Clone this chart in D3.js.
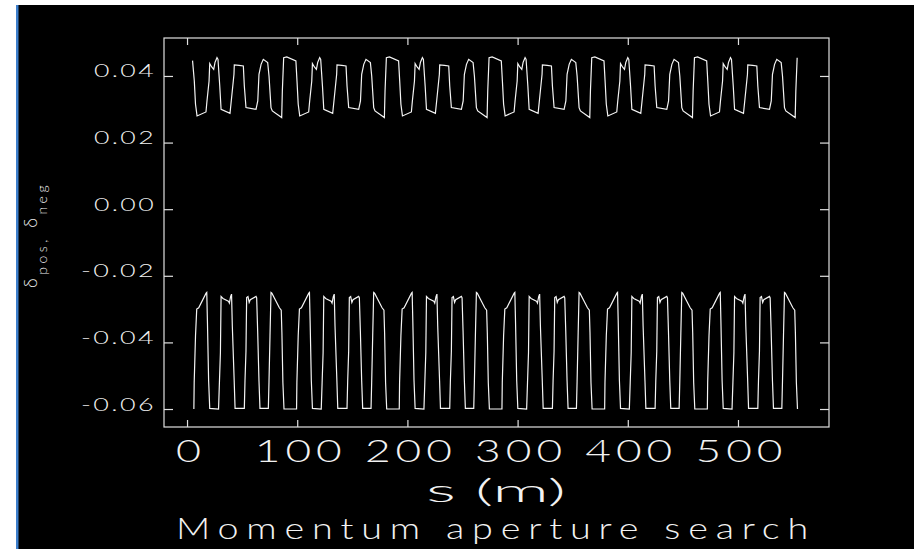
<!doctype html>
<html>
<head>
<meta charset="utf-8">
<script src="https://cdnjs.cloudflare.com/ajax/libs/d3/7.8.5/d3.min.js"></script>
<style>
  body { margin: 0; background: #fff; }
  svg text { font-family: Lato, "DejaVu Sans", sans-serif; font-weight: 300; fill: #f2f2f2; }
</style>
</head>
<body>
<svg id="chart" width="914" height="549"></svg>
<script>
// tick values and labels
const xTicks = [0, 100, 200, 300, 400, 500];
const yTicks = [0.04, 0.02, 0.00, -0.02, -0.04, -0.06];
const yTickLabels = ["0.04", "0.02", "0.00", "-0.02", "-0.04", "-0.06"];

// positive momentum aperture, s in m
const posS = [
  5.0, 6.6, 7.7, 9.1, 17.2, 18.1, 20.0, 20.6, 22.4, 24.2, 25.4, 27.2, 28.1, 29.7, 30.9, 39.0, 40.6, 42.6, 42.9, 47.2, 51.1, 52.0, 53.5, 62.6, 64.2, 65.3, 67.2, 69.2, 73.2, 74.4, 76.2, 77.4, 85.9, 86.5, 87.7, 90.5, 98.8, 99.8, 100.9,
  102.3, 110.4, 111.3, 113.2, 113.8, 115.6, 117.4, 118.6, 120.4, 121.3, 122.9, 124.1, 132.2, 133.8, 135.8, 136.1, 140.4, 144.3, 145.2, 146.7, 155.8, 157.4, 158.5, 160.4, 162.4, 166.4, 167.6, 169.4, 170.6, 179.1, 179.7, 180.9, 183.7, 192.0, 193.0, 194.1,
  195.5, 203.6, 204.5, 206.4, 207.0, 208.8, 210.6, 211.8, 213.6, 214.5, 216.1, 217.3, 225.4, 227.0, 229.0, 229.3, 233.6, 237.5, 238.4, 239.9, 249.0, 250.6, 251.7, 253.6, 255.6, 259.6, 260.8, 262.6, 263.8, 272.3, 272.9, 274.1, 276.9, 285.2, 286.2, 287.3,
  288.7, 296.8, 297.7, 299.6, 300.2, 302.0, 303.8, 305.0, 306.8, 307.7, 309.3, 310.5, 318.6, 320.2, 322.2, 322.5, 326.8, 330.7, 331.6, 333.1, 342.2, 343.8, 344.9, 346.8, 348.8, 352.8, 354.0, 355.8, 357.0, 365.5, 366.1, 367.3, 370.1, 378.4, 379.4, 380.5,
  381.9, 390.0, 390.9, 392.8, 393.4, 395.2, 397.0, 398.2, 400.0, 400.9, 402.5, 403.7, 411.8, 413.4, 415.4, 415.7, 420.0, 423.9, 424.8, 426.3, 435.4, 437.0, 438.1, 440.0, 442.0, 446.0, 447.2, 449.0, 450.2, 458.7, 459.3, 460.5, 463.3, 471.6, 472.6, 473.7,
  475.1, 483.2, 484.1, 486.0, 486.6, 488.4, 490.2, 491.4, 493.2, 494.1, 495.7, 496.9, 505.0, 506.6, 508.6, 508.9, 513.2, 517.1, 518.0, 519.5, 528.6, 530.2, 531.3, 533.2, 535.2, 539.2, 540.4, 542.2, 543.4, 551.9, 552.5, 553.7
];
const posDelta = [
  0.0446, 0.0385, 0.0315, 0.0280, 0.0292, 0.0325, 0.0385, 0.0437, 0.0427, 0.0420, 0.0441, 0.0455, 0.0450, 0.0370, 0.0300, 0.0288, 0.0340, 0.0405, 0.0433, 0.0432, 0.0430, 0.0370, 0.0305, 0.0300, 0.0325, 0.0405, 0.0435, 0.0450, 0.0440, 0.0400, 0.0305, 0.0295, 0.0275, 0.0355, 0.0455, 0.0457, 0.0445, 0.0385, 0.0315,
  0.0280, 0.0292, 0.0325, 0.0385, 0.0437, 0.0427, 0.0420, 0.0441, 0.0455, 0.0450, 0.0370, 0.0300, 0.0288, 0.0340, 0.0405, 0.0433, 0.0432, 0.0430, 0.0370, 0.0305, 0.0300, 0.0325, 0.0405, 0.0435, 0.0450, 0.0440, 0.0400, 0.0305, 0.0295, 0.0275, 0.0355, 0.0455, 0.0457, 0.0445, 0.0385, 0.0315,
  0.0280, 0.0292, 0.0325, 0.0385, 0.0437, 0.0427, 0.0420, 0.0441, 0.0455, 0.0450, 0.0370, 0.0300, 0.0288, 0.0340, 0.0405, 0.0433, 0.0432, 0.0430, 0.0370, 0.0305, 0.0300, 0.0325, 0.0405, 0.0435, 0.0450, 0.0440, 0.0400, 0.0305, 0.0295, 0.0275, 0.0355, 0.0455, 0.0457, 0.0445, 0.0385, 0.0315,
  0.0280, 0.0292, 0.0325, 0.0385, 0.0437, 0.0427, 0.0420, 0.0441, 0.0455, 0.0450, 0.0370, 0.0300, 0.0288, 0.0340, 0.0405, 0.0433, 0.0432, 0.0430, 0.0370, 0.0305, 0.0300, 0.0325, 0.0405, 0.0435, 0.0450, 0.0440, 0.0400, 0.0305, 0.0295, 0.0275, 0.0355, 0.0455, 0.0457, 0.0445, 0.0385, 0.0315,
  0.0280, 0.0292, 0.0325, 0.0385, 0.0437, 0.0427, 0.0420, 0.0441, 0.0455, 0.0450, 0.0370, 0.0300, 0.0288, 0.0340, 0.0405, 0.0433, 0.0432, 0.0430, 0.0370, 0.0305, 0.0300, 0.0325, 0.0405, 0.0435, 0.0450, 0.0440, 0.0400, 0.0305, 0.0295, 0.0275, 0.0355, 0.0455, 0.0457, 0.0445, 0.0385, 0.0315,
  0.0280, 0.0292, 0.0325, 0.0385, 0.0437, 0.0427, 0.0420, 0.0441, 0.0455, 0.0450, 0.0370, 0.0300, 0.0288, 0.0340, 0.0405, 0.0433, 0.0432, 0.0430, 0.0370, 0.0305, 0.0300, 0.0325, 0.0405, 0.0435, 0.0450, 0.0440, 0.0400, 0.0305, 0.0295, 0.0275, 0.0355, 0.0455
];

// negative momentum aperture
const negS = [
  6.2, 6.5, 7.7, 8.8, 10.6, 17.3, 17.9, 18.5, 19.6, 20.6, 28.6, 29.4, 30.3, 30.9, 32.6, 37.5, 38.4, 39.6, 40.4, 41.1, 42.8, 43.6, 52.0, 52.6, 53.5, 54.1, 55.3, 56.4, 57.4, 62.6, 63.2, 64.1, 65.3, 66.2, 73.8, 74.4, 75.3, 76.2, 77.0, 83.8, 85.5, 86.1, 87.0, 88.0,
  99.4, 99.7, 100.9, 102.0, 103.8, 110.5, 111.1, 111.7, 112.8, 113.8, 121.8, 122.6, 123.5, 124.1, 125.8, 130.7, 131.6, 132.8, 133.6, 134.3, 136.0, 136.8, 145.2, 145.8, 146.7, 147.3, 148.5, 149.6, 150.6, 155.8, 156.4, 157.3, 158.5, 159.4, 167.0, 167.6, 168.5, 169.4, 170.2, 177.0, 178.7, 179.3, 180.2, 181.2,
  192.6, 192.9, 194.1, 195.2, 197.0, 203.7, 204.3, 204.9, 206.0, 207.0, 215.0, 215.8, 216.7, 217.3, 219.0, 223.9, 224.8, 226.0, 226.8, 227.5, 229.2, 230.0, 238.4, 239.0, 239.9, 240.5, 241.7, 242.8, 243.8, 249.0, 249.6, 250.5, 251.7, 252.6, 260.2, 260.8, 261.7, 262.6, 263.4, 270.2, 271.9, 272.5, 273.4, 274.4,
  285.8, 286.1, 287.3, 288.4, 290.2, 296.9, 297.5, 298.1, 299.2, 300.2, 308.2, 309.0, 309.9, 310.5, 312.2, 317.1, 318.0, 319.2, 320.0, 320.7, 322.4, 323.2, 331.6, 332.2, 333.1, 333.7, 334.9, 336.0, 337.0, 342.2, 342.8, 343.7, 344.9, 345.8, 353.4, 354.0, 354.9, 355.8, 356.6, 363.4, 365.1, 365.7, 366.6, 367.6,
  379.0, 379.3, 380.5, 381.6, 383.4, 390.1, 390.7, 391.3, 392.4, 393.4, 401.4, 402.2, 403.1, 403.7, 405.4, 410.3, 411.2, 412.4, 413.2, 413.9, 415.6, 416.4, 424.8, 425.4, 426.3, 426.9, 428.1, 429.2, 430.2, 435.4, 436.0, 436.9, 438.1, 439.0, 446.6, 447.2, 448.1, 449.0, 449.8, 456.6, 458.3, 458.9, 459.8, 460.8,
  472.2, 472.5, 473.7, 474.8, 476.6, 483.3, 483.9, 484.5, 485.6, 486.6, 494.6, 495.4, 496.3, 496.9, 498.6, 503.5, 504.4, 505.6, 506.4, 507.1, 508.8, 509.6, 518.0, 518.6, 519.5, 520.1, 521.3, 522.4, 523.4, 528.6, 529.2, 530.1, 531.3, 532.2, 539.8, 540.4, 541.3, 542.2, 543.0, 549.8, 551.5, 552.1, 553.0, 554.0
];
const negDelta = [
  -0.0600, -0.0520, -0.0380, -0.0300, -0.0296, -0.0252, -0.0250, -0.0335, -0.0515, -0.0598, -0.0600, -0.0520, -0.0430, -0.0262, -0.0268, -0.0276, -0.0282, -0.0262, -0.0255, -0.0351, -0.0516, -0.0598, -0.0598, -0.0516, -0.0426, -0.0265, -0.0262, -0.0280, -0.0272, -0.0262, -0.0266, -0.0366, -0.0516, -0.0598, -0.0598, -0.0516, -0.0380, -0.0250, -0.0252, -0.0296, -0.0303, -0.0371, -0.0521, -0.0600,
  -0.0600, -0.0520, -0.0380, -0.0300, -0.0296, -0.0252, -0.0250, -0.0335, -0.0515, -0.0598, -0.0600, -0.0520, -0.0430, -0.0262, -0.0268, -0.0276, -0.0282, -0.0262, -0.0255, -0.0351, -0.0516, -0.0598, -0.0598, -0.0516, -0.0426, -0.0265, -0.0262, -0.0280, -0.0272, -0.0262, -0.0266, -0.0366, -0.0516, -0.0598, -0.0598, -0.0516, -0.0380, -0.0250, -0.0252, -0.0296, -0.0303, -0.0371, -0.0521, -0.0600,
  -0.0600, -0.0520, -0.0380, -0.0300, -0.0296, -0.0252, -0.0250, -0.0335, -0.0515, -0.0598, -0.0600, -0.0520, -0.0430, -0.0262, -0.0268, -0.0276, -0.0282, -0.0262, -0.0255, -0.0351, -0.0516, -0.0598, -0.0598, -0.0516, -0.0426, -0.0265, -0.0262, -0.0280, -0.0272, -0.0262, -0.0266, -0.0366, -0.0516, -0.0598, -0.0598, -0.0516, -0.0380, -0.0250, -0.0252, -0.0296, -0.0303, -0.0371, -0.0521, -0.0600,
  -0.0600, -0.0520, -0.0380, -0.0300, -0.0296, -0.0252, -0.0250, -0.0335, -0.0515, -0.0598, -0.0600, -0.0520, -0.0430, -0.0262, -0.0268, -0.0276, -0.0282, -0.0262, -0.0255, -0.0351, -0.0516, -0.0598, -0.0598, -0.0516, -0.0426, -0.0265, -0.0262, -0.0280, -0.0272, -0.0262, -0.0266, -0.0366, -0.0516, -0.0598, -0.0598, -0.0516, -0.0380, -0.0250, -0.0252, -0.0296, -0.0303, -0.0371, -0.0521, -0.0600,
  -0.0600, -0.0520, -0.0380, -0.0300, -0.0296, -0.0252, -0.0250, -0.0335, -0.0515, -0.0598, -0.0600, -0.0520, -0.0430, -0.0262, -0.0268, -0.0276, -0.0282, -0.0262, -0.0255, -0.0351, -0.0516, -0.0598, -0.0598, -0.0516, -0.0426, -0.0265, -0.0262, -0.0280, -0.0272, -0.0262, -0.0266, -0.0366, -0.0516, -0.0598, -0.0598, -0.0516, -0.0380, -0.0250, -0.0252, -0.0296, -0.0303, -0.0371, -0.0521, -0.0600,
  -0.0600, -0.0520, -0.0380, -0.0300, -0.0296, -0.0252, -0.0250, -0.0335, -0.0515, -0.0598, -0.0600, -0.0520, -0.0430, -0.0262, -0.0268, -0.0276, -0.0282, -0.0262, -0.0255, -0.0351, -0.0516, -0.0598, -0.0598, -0.0516, -0.0426, -0.0265, -0.0262, -0.0280, -0.0272, -0.0262, -0.0266, -0.0366, -0.0516, -0.0598, -0.0598, -0.0516, -0.0380, -0.0250, -0.0252, -0.0296, -0.0303, -0.0371, -0.0521, -0.0600
];

const svg = d3.select("#chart");
const plotLeft = 164, plotRight = 829, plotTop = 38, plotBottom = 427;

// black plotting window with the blue edge on the left
svg.append("rect").attr("x", 18).attr("y", 5).attr("width", 896).attr("height", 544).attr("fill", "#000");
svg.append("rect").attr("x", 16).attr("y", 5).attr("width", 2.5).attr("height", 544).attr("fill", "#3d7fcc");

const x = d3.scaleLinear().domain([-20.9, 582.6]).range([plotLeft, plotRight]);
const y = d3.scaleLinear().domain([-0.0654, 0.0514]).range([plotBottom, plotTop]);

function styleAxis(g) {
  g.select(".domain").remove();
  g.selectAll(".tick line").attr("stroke", "#e0e0e0").attr("stroke-width", 1.2);
}

// ticks point inward on all four sides
const gBottom = svg.append("g").attr("transform", `translate(0,${plotBottom})`)
  .call(d3.axisBottom(x).tickValues(xTicks).tickSize(-7).tickFormat(d => String(d)));
styleAxis(gBottom);
gBottom.selectAll("text")
  .attr("x", d => d === 0 ? 1 : 3).attr("y", 35).attr("dy", 0)
  .style("font-size", "31px").style("letter-spacing", d => d === 0 ? null : "3.5px")
  .attr("textLength", d => d === 0 ? 25 : 92)
  .attr("lengthAdjust", "spacingAndGlyphs");

svg.append("g").attr("transform", `translate(0,${plotTop})`)
  .call(d3.axisTop(x).tickValues(xTicks).tickSize(-7).tickFormat(""))
  .call(styleAxis);

const gLeft = svg.append("g").attr("transform", `translate(${plotLeft},0)`)
  .call(d3.axisLeft(y).tickValues(yTicks).tickSize(-9).tickFormat((d, i) => yTickLabels[i]));
styleAxis(gLeft);
gLeft.selectAll("text")
  .attr("x", -8).attr("dy", 0).attr("y", 1)
  .style("font-size", "17px").style("letter-spacing", "1.5px")
  .attr("textLength", (d, i) => yTickLabels[i].length > 4 ? 75 : 62)
  .attr("lengthAdjust", "spacingAndGlyphs");

svg.append("g").attr("transform", `translate(${plotRight},0)`)
  .call(d3.axisRight(y).tickValues(yTicks).tickSize(-9).tickFormat(""))
  .call(styleAxis);

// frame
svg.append("rect")
  .attr("x", plotLeft).attr("y", plotTop).attr("width", plotRight - plotLeft).attr("height", plotBottom - plotTop)
  .attr("fill", "none").attr("stroke", "#e0e0e0").attr("stroke-width", 1.2);

// traces
const line = d3.line().x(d => x(d[0])).y(d => y(d[1]));
svg.append("path").datum(d3.zip(posS, posDelta))
  .attr("d", line).attr("fill", "none").attr("stroke", "#f4f4f4").attr("stroke-width", 1.2);
svg.append("path").datum(d3.zip(negS, negDelta))
  .attr("d", line).attr("fill", "none").attr("stroke", "#f4f4f4").attr("stroke-width", 1.2);

// axis titles
svg.append("text").attr("x", 496).attr("y", 502).attr("text-anchor", "middle")
  .style("font-size", "31px").attr("textLength", 140).attr("lengthAdjust", "spacingAndGlyphs")
  .text("s (m)");
svg.append("text").attr("x", 496).attr("y", 539).attr("text-anchor", "middle")
  .style("font-size", "29px").style("letter-spacing", "6px")
  .attr("textLength", 640).attr("lengthAdjust", "spacingAndGlyphs")
  .text("Momentum aperture search");

const yl = svg.append("text").attr("transform", "translate(37,235) rotate(-90)")
  .attr("text-anchor", "middle").style("font-size", "18px").style("letter-spacing", "3.5px");
yl.append("tspan").text("\u03b4");
yl.append("tspan").attr("dy", 10).style("font-size", "14px").text("pos,");
yl.append("tspan").attr("dy", -10).text(" \u03b4");
yl.append("tspan").attr("dy", 10).style("font-size", "14px").text("neg");
</script>
</body>
</html>
